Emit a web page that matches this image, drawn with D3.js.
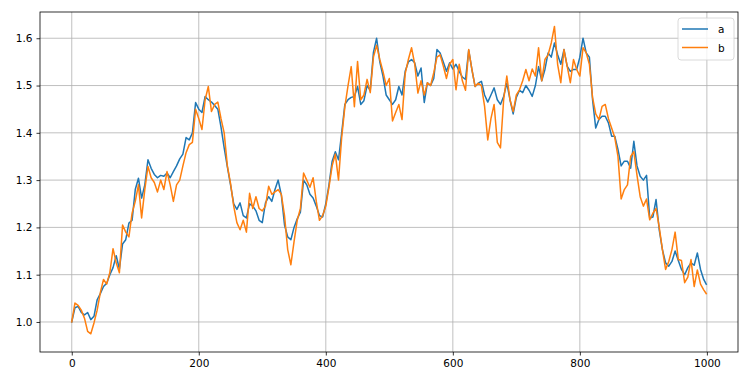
<!DOCTYPE html>
<html>
<head>
<meta charset="utf-8">
<script src="https://cdn.jsdelivr.net/npm/d3@7"></script>
<style>
  body { margin: 0; background: #fff; }
  svg text { font-family: "DejaVu Sans", sans-serif; }
</style>
</head>
<body>
<svg id="chart"></svg>
<script>
// x positions (step index) and the two series
var steps = [];
for (var s = 0; s < 1000; s += 5) steps.push(s);
steps.push(999);

var seriesA = [
  1.000, 1.030, 1.033, 1.020, 1.015, 1.020, 1.005, 1.012, 1.047, 1.060,
  1.075, 1.082, 1.100, 1.115, 1.140, 1.112, 1.165, 1.174, 1.209, 1.215,
  1.280, 1.304, 1.262, 1.290, 1.343, 1.325, 1.312, 1.305, 1.310, 1.308,
  1.315, 1.305, 1.318, 1.330, 1.345, 1.355, 1.390, 1.385, 1.400, 1.464,
  1.450, 1.443, 1.477, 1.470, 1.465, 1.458, 1.450, 1.412, 1.368, 1.328,
  1.290, 1.250, 1.238, 1.252, 1.225, 1.220, 1.250, 1.245, 1.235, 1.215,
  1.210, 1.252, 1.265, 1.255, 1.280, 1.300, 1.268, 1.205, 1.180, 1.174,
  1.200, 1.218, 1.232, 1.300, 1.290, 1.270, 1.262, 1.245, 1.225, 1.222,
  1.250, 1.290, 1.340, 1.360, 1.343, 1.400, 1.460, 1.470, 1.475, 1.477,
  1.498, 1.460, 1.468, 1.500, 1.490, 1.570, 1.600, 1.550, 1.520, 1.480,
  1.470, 1.460, 1.470, 1.498, 1.480, 1.530, 1.550, 1.555, 1.548, 1.520,
  1.537, 1.464, 1.506, 1.500, 1.515, 1.576, 1.569, 1.550, 1.530, 1.548,
  1.535, 1.545, 1.530, 1.518, 1.513, 1.575, 1.534, 1.498, 1.505, 1.509,
  1.480, 1.465, 1.480, 1.495, 1.470, 1.460, 1.477, 1.505, 1.470, 1.440,
  1.475, 1.490, 1.485, 1.500, 1.490, 1.477, 1.500, 1.540, 1.510, 1.534,
  1.569, 1.560, 1.590, 1.565, 1.545, 1.576, 1.541, 1.530, 1.534, 1.534,
  1.560, 1.600, 1.569, 1.560, 1.470, 1.410, 1.428, 1.435, 1.435, 1.421,
  1.393, 1.393, 1.365, 1.330, 1.340, 1.340, 1.325, 1.382, 1.330, 1.308,
  1.300, 1.310, 1.220, 1.222, 1.259, 1.195, 1.153, 1.125, 1.118, 1.128,
  1.150, 1.130, 1.111, 1.100, 1.115, 1.125, 1.120, 1.146, 1.111, 1.090,
  1.080
];

var seriesB = [
  1.000, 1.040, 1.035, 1.025, 1.008, 0.980, 0.975, 0.998, 1.025, 1.062,
  1.090, 1.080, 1.105, 1.155, 1.125, 1.104, 1.205, 1.190, 1.180, 1.230,
  1.255, 1.290, 1.220, 1.280, 1.329, 1.305, 1.295, 1.275, 1.300, 1.280,
  1.318, 1.290, 1.255, 1.290, 1.300, 1.330, 1.358, 1.375, 1.380, 1.450,
  1.430, 1.407, 1.470, 1.498, 1.445, 1.460, 1.465, 1.430, 1.400, 1.330,
  1.293, 1.245, 1.210, 1.195, 1.215, 1.190, 1.272, 1.240, 1.265, 1.240,
  1.235, 1.245, 1.287, 1.270, 1.275, 1.280, 1.270, 1.225, 1.153, 1.121,
  1.170, 1.215, 1.240, 1.315, 1.300, 1.285, 1.305, 1.255, 1.215, 1.225,
  1.245, 1.285, 1.330, 1.355, 1.300, 1.390, 1.455, 1.500, 1.540, 1.455,
  1.551, 1.470, 1.480, 1.513, 1.485, 1.560, 1.585, 1.555, 1.530, 1.500,
  1.515, 1.425, 1.443, 1.460, 1.428, 1.525, 1.555, 1.580, 1.545, 1.484,
  1.510, 1.480, 1.506, 1.500, 1.527, 1.560, 1.565, 1.541, 1.515, 1.545,
  1.555, 1.491, 1.545, 1.510, 1.490, 1.576, 1.534, 1.498, 1.505, 1.500,
  1.456, 1.385, 1.430, 1.460, 1.380, 1.368, 1.470, 1.520, 1.470, 1.445,
  1.480, 1.491, 1.510, 1.534, 1.510, 1.535, 1.520, 1.580, 1.510, 1.555,
  1.565, 1.590, 1.625, 1.545, 1.506, 1.576, 1.541, 1.506, 1.555, 1.534,
  1.520, 1.580, 1.569, 1.545, 1.475, 1.440, 1.428, 1.456, 1.460, 1.430,
  1.410, 1.390, 1.350, 1.260, 1.280, 1.290, 1.350, 1.360, 1.310, 1.265,
  1.245, 1.260, 1.216, 1.230, 1.240, 1.200, 1.153, 1.111, 1.128, 1.153,
  1.190, 1.132, 1.130, 1.083, 1.095, 1.132, 1.075, 1.110, 1.080, 1.068,
  1.060
];

var seriesNames = ["a", "b"];
var seriesColors = ["#1f77b4", "#ff7f0e"];
var xTicks = [0, 200, 400, 600, 800, 1000];
var yTicks = [1.0, 1.1, 1.2, 1.3, 1.4, 1.5, 1.6];

var svgWidth = 750, svgHeight = 387;
var margin = { top: 12, right: 12, bottom: 35, left: 40 };
var width = svgWidth - margin.left - margin.right;
var height = svgHeight - margin.top - margin.bottom;

var x = d3.scaleLinear().domain([-50, 1049]).range([0, width]);
var y = d3.scaleLinear().domain([0.9365, 1.6555]).range([height, 0]);

var svg = d3.select("#chart")
    .attr("width", svgWidth)
    .attr("height", svgHeight);
var g = svg.append("g")
    .attr("transform", "translate(" + margin.left + "," + margin.top + ")");

// grid
g.append("g").selectAll("line").data(xTicks).enter().append("line")
    .attr("x1", function(d) { return x(d); })
    .attr("x2", function(d) { return x(d); })
    .attr("y1", 0).attr("y2", height)
    .attr("stroke", "#b0b0b0").attr("stroke-width", 0.8);
g.append("g").selectAll("line").data(yTicks).enter().append("line")
    .attr("y1", function(d) { return y(d); })
    .attr("y2", function(d) { return y(d); })
    .attr("x1", 0).attr("x2", width)
    .attr("stroke", "#b0b0b0").attr("stroke-width", 0.8);

// lines
var line = d3.line()
    .x(function(d, i) { return x(steps[i]); })
    .y(function(d) { return y(d); });

[seriesA, seriesB].forEach(function(vals, k) {
  g.append("path")
      .datum(vals)
      .attr("fill", "none")
      .attr("stroke", seriesColors[k])
      .attr("stroke-width", 1.5)
      .attr("stroke-linejoin", "round")
      .attr("stroke-linecap", "square")
      .attr("d", line);
});

// axes
var xAxis = g.append("g")
    .attr("transform", "translate(0," + height + ")")
    .call(d3.axisBottom(x).tickValues(xTicks).tickSize(3.5).tickPadding(4).tickFormat(d3.format("d")));
var yAxis = g.append("g")
    .call(d3.axisLeft(y).tickValues(yTicks).tickSize(3.5).tickPadding(4).tickFormat(d3.format(".1f")));
[xAxis, yAxis].forEach(function(ax) {
  ax.select(".domain").remove();
  ax.selectAll("line").attr("stroke", "#000").attr("stroke-width", 0.8);
  ax.selectAll("text").attr("fill", "#000").style("font-size", "10.5px")
      .style("font-family", "DejaVu Sans, sans-serif");
});

// frame
g.append("rect")
    .attr("width", width).attr("height", height)
    .attr("fill", "none").attr("stroke", "#000").attr("stroke-width", 0.8);

// legend
var lg = g.append("g").attr("transform", "translate(" + (width - 60) + ",6)");
lg.append("rect")
    .attr("width", 56).attr("height", 42).attr("rx", 3)
    .attr("fill", "#fff").attr("fill-opacity", 0.8)
    .attr("stroke", "#d0d0d0").attr("stroke-width", 0.8);
seriesNames.forEach(function(name, k) {
  var yy = 11 + k * 18.5;
  lg.append("line")
      .attr("x1", 4).attr("x2", 30).attr("y1", yy).attr("y2", yy)
      .attr("stroke", seriesColors[k]).attr("stroke-width", 1.5);
  lg.append("text")
      .attr("x", 40).attr("y", yy + 4)
      .attr("fill", "#000").style("font-size", "10.5px")
      .text(name);
});
</script>
</body>
</html>
